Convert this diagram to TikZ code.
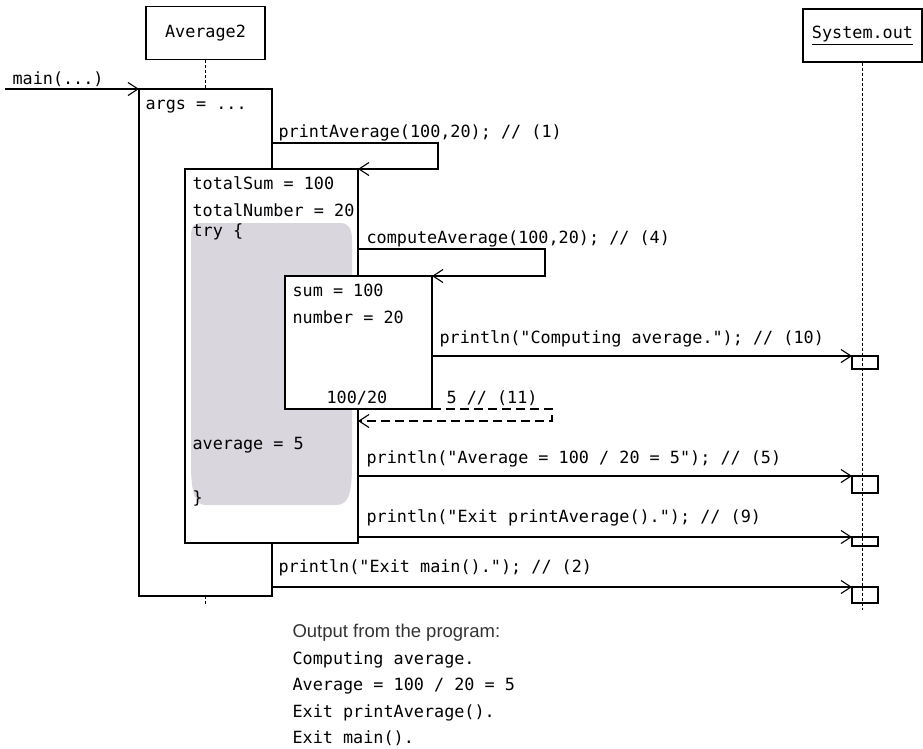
\documentclass[tikz,border=0pt]{standalone}
\usepackage{fontspec}
\usetikzlibrary{arrows.meta,positioning}
\newfontfamily\codefont{DejaVu Sans Mono}
\newfontfamily\notefont{Liberation Sans}
\definecolor{trygray}{RGB}{217,215,221}

\begin{document}
\begin{tikzpicture}[x=1pt, y=-1pt, node distance=9.5pt, line width=1.1pt,
    objbox/.style={rectangle, draw, fill=white, minimum width=119pt, minimum height=53pt, inner sep=0pt, font=\codefont\fontsize{16.8}{20}\selectfont},
    act/.style={rectangle, draw, fill=white, anchor=north west, inner sep=0pt, outer sep=0pt},
    outbox/.style={rectangle, draw, anchor=north west, inner sep=0pt, outer sep=0pt, minimum width=26pt},
    code/.style={font=\codefont\fontsize{16.8}{20}\selectfont, anchor=base west, inner sep=0pt},
    outline/.style={code, text height=12pt, text depth=4pt},
    call/.style={-{Straight Barb[length=10pt,width=13pt]}},
    reply/.style={call, dash pattern=on 9pt off 5pt},
    lifeline/.style={line width=0.7pt, dash pattern=on 3pt off 2pt}]
    \useasboundingbox (0,0) rectangle (923,748);

    % objects
    \node[objbox] (avg) at (205.5,33) {Average2};
    \node[objbox] (sysout) at (862.5,35.5) {\underline{System.out}};
    \draw[lifeline] (sysout.south) -- (sysout.south |- 0,610);

    % main()
    \node[act, minimum width=133pt, minimum height=507pt] (mainact) at (139,89) {};
    \draw[lifeline] (avg.south) -- (avg |- mainact.north);
    \draw[lifeline] (avg |- mainact.south) -- ++(0,9);
    \node[code] (args) at (145,109) {args = ...};

    % printAverage()
    \node[act, minimum width=173pt, minimum height=374pt] (printact) at (185,169) {};
    \fill[trygray] (191,236) .. controls (191,226) and (194,223) .. (202,223) -- (340,223)
        .. controls (348,223) and (352,228) .. (352,240) -- (352,465)
        .. controls (352,495) and (348,505) .. (336,505) -- (206,505)
        .. controls (196,505) and (191,495) .. (191,465) -- cycle;
    \node[code] (tsum) at (192,189) {totalSum = 100};
    \node[code] (tnum) at (192,216) {totalNumber = 20};
    \node[code] (try) at (192,236) {try \{};
    \node[code] (avgvar) at (192,449) {average = 5};
    \node[code] (tryend) at (192,503) {\}};

    % computeAverage()
    \node[act, minimum width=147pt, minimum height=133pt] (compact) at (285,276) {};
    \node[code] (sum) at (292,296) {sum = 100};
    \node[code] (num) at (292,323) {number = 20};
    \node[code] (quot) at (326,403) {100/20};

    % activations on System.out
    \node[outbox, minimum height=13pt] (out1) at (852,356) {};
    \node[outbox, minimum height=17pt] (out2) at (852,476) {};
    \node[outbox, minimum height=9pt] (out3) at (852,537) {};
    \node[outbox, minimum height=16pt] (out4) at (852,587) {};

    % messages
    \coordinate (start) at (5,89);
    \draw[call] (start) -- (mainact.north west);
    \node[code] (mainlbl) at (12,84) {main(...)};

    \draw[call] (mainact.east |- 0,143) -- ++(166,0) |- (printact.north east);
    \node[code] (lbl1) at (278,137) {printAverage(100,20); // (1)};

    \draw[call] (printact.east |- 0,249) -- ++(187,0) |- (compact.north east);
    \node[code] (lbl4) at (366,243) {computeAverage(100,20); // (4)};

    \draw[call] (compact.east |- out1.north west) -- (out1.north west);
    \node[code] (lbl10) at (439,343) {println("Computing average."); // (10)};

    \draw[reply] (compact.south east) -- ++(120,0) -- ++(0,12) -- (printact.east |- 0,421);
    \node[code] (lbl11) at (446,403) {5 // (11)};

    \draw[call] (printact.east |- out2.north west) -- (out2.north west);
    \node[code] (lbl5) at (366,463) {println("Average = 100 / 20 = 5"); // (5)};

    \draw[call] (printact.east |- out3.north west) -- (out3.north west);
    \node[code] (lbl9) at (366,522) {println("Exit printAverage()."); // (9)};

    \draw[call] (mainact.east |- out4.north west) -- (out4.north west);
    \node[code] (lbl2) at (278,572) {println("Exit main()."); // (2)};

    % program output
    \node[outline, anchor=north west, font=\notefont\fontsize{18.5}{20}\selectfont, text=black!80] (outhead) at (292,625) {Output from the program:};
    \node[outline, below=of outhead.south west, anchor=north west] (out1txt) {Computing average.};
    \node[outline, below=of out1txt.south west, anchor=north west] (out2txt) {Average = 100 / 20 = 5};
    \node[outline, below=of out2txt.south west, anchor=north west] (out3txt) {Exit printAverage().};
    \node[outline, below=of out3txt.south west, anchor=north west] (out4txt) {Exit main().};
\end{tikzpicture}
\end{document}
